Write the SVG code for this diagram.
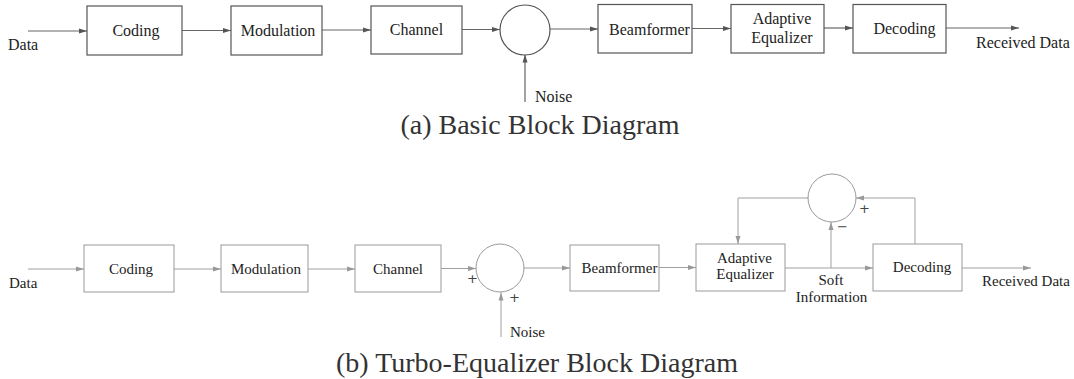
<svg xmlns="http://www.w3.org/2000/svg" width="1074" height="379" viewBox="0 0 1074 379">
<style>
  text { font-family: "Liberation Serif", "Times New Roman", serif; fill: #222; }
  .t16 { font-size: 16px; }
  .t15 { font-size: 15px; }
  .cap { font-size: 28px; fill: #333; text-anchor: middle; }
  .mid { text-anchor: middle; }
  .boxA { fill: #fff; stroke: #555; stroke-width: 1.2; }
  .boxB { fill: #fff; stroke: #999; stroke-width: 1; }
  .lnA { fill: none; stroke: #666; stroke-width: 1.2; }
  .lnB { fill: none; stroke: #a0a0a0; stroke-width: 1; }
  .sign { font-size: 13px; font-family: "DejaVu Sans", sans-serif; fill: #444; }
</style>
<defs>
  <marker id="arrA" markerUnits="userSpaceOnUse" markerWidth="9" markerHeight="6" refX="8" refY="3" orient="auto">
    <path d="M0,0.5 L8,3 L0,5.5 z" fill="#555"/>
  </marker>
  <marker id="arrB" markerUnits="userSpaceOnUse" markerWidth="9" markerHeight="6" refX="8" refY="3" orient="auto">
    <path d="M0,0.5 L8,3 L0,5.5 z" fill="#999"/>
  </marker>
</defs>
<rect width="1074" height="379" fill="#fff"/>

<!-- (a) Basic Block Diagram -->
<g id="a-connectors">
  <line class="lnA" x1="28" y1="31" x2="87" y2="31" marker-end="url(#arrA)"/>
  <line class="lnA" x1="182" y1="30.5" x2="231" y2="30.5" marker-end="url(#arrA)"/>
  <line class="lnA" x1="322" y1="30" x2="371" y2="30" marker-end="url(#arrA)"/>
  <line class="lnA" x1="462" y1="29.5" x2="500" y2="29.5" marker-end="url(#arrA)"/>
  <line class="lnA" x1="550" y1="29" x2="598" y2="29" marker-end="url(#arrA)"/>
  <line class="lnA" x1="692" y1="28.5" x2="731" y2="28.5" marker-end="url(#arrA)"/>
  <line class="lnA" x1="824" y1="28" x2="853" y2="28" marker-end="url(#arrA)"/>
  <line class="lnA" x1="946" y1="28" x2="1019" y2="28" marker-end="url(#arrA)"/>
  <line class="lnA" x1="525" y1="102" x2="525" y2="54.5" marker-end="url(#arrA)"/>
</g>
<g id="a-data"><text class="t16" x="8" y="50">Data</text></g>
<g id="a-coding"><rect class="boxA" x="87" y="6" width="95" height="49"/><text class="t16 mid" x="136" y="36">Coding</text></g>
<g id="a-modulation"><rect class="boxA" x="231" y="6" width="91" height="49"/><text class="t16 mid" x="278" y="36">Modulation</text></g>
<g id="a-channel"><rect class="boxA" x="371" y="6" width="91" height="48"/><text class="t16 mid" x="416.5" y="35">Channel</text></g>
<g id="a-sum"><circle class="boxA" cx="525" cy="30" r="25"/></g>
<g id="a-noise"><text class="t16" x="535" y="102">Noise</text></g>
<g id="a-beamformer"><rect class="boxA" x="598" y="4.5" width="94" height="48.5"/><text class="t16 mid" x="649.5" y="35">Beamformer</text></g>
<g id="a-equalizer"><rect class="boxA" x="731" y="4.5" width="93" height="48.5"/><text class="t16 mid" x="782" y="24">Adaptive</text><text class="t16 mid" x="782" y="43">Equalizer</text></g>
<g id="a-decoding"><rect class="boxA" x="853" y="4.5" width="93" height="48.5"/><text class="t16 mid" x="904.5" y="34">Decoding</text></g>
<g id="a-received"><text class="t16" x="976" y="48">Received Data</text></g>
<text class="cap" x="540" y="134">(a) Basic Block Diagram</text>

<!-- (b) Turbo-Equalizer Block Diagram -->
<g id="b-connectors">
  <line class="lnB" x1="28" y1="269" x2="84" y2="269" marker-end="url(#arrB)"/>
  <line class="lnB" x1="174" y1="269" x2="221" y2="269" marker-end="url(#arrB)"/>
  <line class="lnB" x1="308" y1="269" x2="355" y2="269" marker-end="url(#arrB)"/>
  <line class="lnB" x1="441" y1="268.5" x2="476" y2="268.5" marker-end="url(#arrB)"/>
  <line class="lnB" x1="524" y1="268" x2="570" y2="268" marker-end="url(#arrB)"/>
  <line class="lnB" x1="659" y1="267.5" x2="696" y2="267.5" marker-end="url(#arrB)"/>
  <line class="lnB" x1="785" y1="268" x2="873" y2="268" marker-end="url(#arrB)"/>
  <line class="lnB" x1="962" y1="268" x2="1031" y2="268" marker-end="url(#arrB)"/>
  <line class="lnB" x1="501" y1="337" x2="501" y2="292.5" marker-end="url(#arrB)"/>
  <line class="lnB" x1="831" y1="268" x2="831" y2="222" marker-end="url(#arrB)"/>
  <polyline class="lnB" points="915,244 915,198 856,198" marker-end="url(#arrB)"/>
  <polyline class="lnB" points="808,198 738,198 738,244" marker-end="url(#arrB)"/>
</g>
<g id="b-data"><text class="t15" x="9" y="288">Data</text></g>
<g id="b-coding"><rect class="boxB" x="84" y="245" width="90" height="47"/><text class="t15 mid" x="131" y="274">Coding</text></g>
<g id="b-modulation"><rect class="boxB" x="221" y="245" width="87" height="47"/><text class="t15 mid" x="266" y="274">Modulation</text></g>
<g id="b-channel"><rect class="boxB" x="355" y="245" width="86" height="47"/><text class="t15 mid" x="398" y="274">Channel</text></g>
<g id="b-sum"><circle class="boxB" cx="500" cy="268" r="24"/><text class="sign" x="467" y="283">+</text><text class="sign" x="509" y="302">+</text></g>
<g id="b-noise"><text class="t15" x="510" y="337">Noise</text></g>
<g id="b-beamformer"><rect class="boxB" x="570" y="245" width="89" height="46"/><text class="t15 mid" x="619.5" y="273">Beamformer</text></g>
<g id="b-equalizer"><rect class="boxB" x="696" y="244" width="89" height="47"/><text class="t15 mid" x="744.5" y="263">Adaptive</text><text class="t15 mid" x="745" y="279">Equalizer</text></g>
<g id="b-feedback-sum"><circle class="boxB" cx="832" cy="198" r="24"/><text class="sign" x="859" y="213">+</text><text class="sign" x="837" y="231">−</text></g>
<g id="b-soft"><text class="t15 mid" x="831" y="285">Soft</text><text class="t15 mid" x="831.5" y="302">Information</text></g>
<g id="b-decoding"><rect class="boxB" x="873" y="244" width="89" height="47"/><text class="t15 mid" x="922" y="272">Decoding</text></g>
<g id="b-received"><text class="t15" x="982" y="286">Received Data</text></g>
<text class="cap" x="537" y="372">(b) Turbo-Equalizer Block Diagram</text>
</svg>
